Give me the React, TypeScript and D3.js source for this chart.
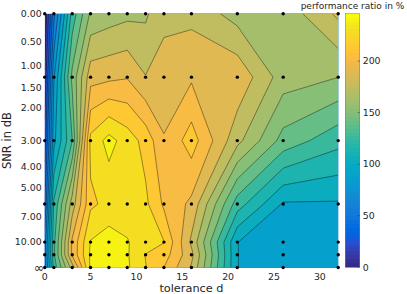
import React from "react";
import * as d3 from "d3";

// ---------- data ----------
const tolerance = [0, 1, 3, 5, 7, 9, 11, 13, 16, 21, 26, 32];
const snrDb = [0, 1.2494, 3.0103, 6.0206, 10, 13.0103, Infinity];

const ratioSnr0 = [0, 58, 128, 162, 166, 169, 170, 183, 181, 167, 164, 187];
const ratioSnr1 = [14, 85, 151, 192, 194, 196, 185, 187, 195, 194, 166, 160];
const ratioSnr3 = [30, 95, 135, 225, 238, 228, 217, 198, 215, 176, 143, 127];
const ratioSnr6 = [50, 125, 178, 219, 225, 229, 224, 207, 194, 129, 97, 97];
const ratioSnr10 = [68, 132, 199, 234.5, 240, 234.3, 229, 221.8, 182, 98.6, 90, 90];
const ratioSnr13 = [70, 133, 199, 236, 241, 235, 220.8, 215, 188, 98.6, 90, 90];
const ratioSnrInf = [66, 128, 178, 236, 246, 235.5, 222, 209, 183, 98.6, 90, 90];
const ratioRows = [ratioSnr0, ratioSnr1, ratioSnr3, ratioSnr6, ratioSnr10, ratioSnr13, ratioSnrInf];

const yTickValues = [0, 0.5, 1, 1.5, 2, 3, 4, 5, 7, 10, Infinity];
const yTickLabels = ["0.00", "0.50", "1.00", "1.50", "2.00", "3.00", "4.00", "5.00", "7.00", "10.00", "\u221E"];
const xTickValues = [0, 5, 10, 15, 20, 25, 30];
const cbTickValues = [0, 50, 100, 150, 200];
const colorMax = 246;
const levelCount = 20;
const fillColorMax = 240;

// ---------- parula colormap ----------
const PARULA: number[][] = [
  [0.2081, 0.1663, 0.5292], [0.2116, 0.1898, 0.5777], [0.2123, 0.2138, 0.627], [0.2081, 0.2386, 0.6771],
  [0.1959, 0.2645, 0.7279], [0.1707, 0.2919, 0.7792], [0.1253, 0.3242, 0.8303], [0.0591, 0.3598, 0.8683],
  [0.0117, 0.3875, 0.882], [0.006, 0.4086, 0.8828], [0.0165, 0.4266, 0.8786], [0.0329, 0.443, 0.872],
  [0.0498, 0.4586, 0.8641], [0.0629, 0.4737, 0.8554], [0.0723, 0.4887, 0.8467], [0.0779, 0.504, 0.8384],
  [0.0793, 0.52, 0.8312], [0.0749, 0.5375, 0.8263], [0.0641, 0.557, 0.824], [0.0488, 0.5772, 0.8228],
  [0.0343, 0.5966, 0.8199], [0.0265, 0.6137, 0.8135], [0.0239, 0.6287, 0.8038], [0.0231, 0.6418, 0.7913],
  [0.0228, 0.6535, 0.7768], [0.0267, 0.6642, 0.7607], [0.0384, 0.6743, 0.7436], [0.059, 0.6838, 0.7254],
  [0.0843, 0.6928, 0.7062], [0.1133, 0.7015, 0.6859], [0.1453, 0.7098, 0.6646], [0.1801, 0.7177, 0.6424],
  [0.2178, 0.725, 0.6193], [0.2586, 0.7317, 0.5954], [0.3022, 0.7376, 0.5712], [0.3482, 0.7424, 0.5473],
  [0.3953, 0.7459, 0.5244], [0.442, 0.7481, 0.5033], [0.4871, 0.7491, 0.484], [0.53, 0.7491, 0.4661],
  [0.5709, 0.7485, 0.4494], [0.6099, 0.7473, 0.4337], [0.6473, 0.7456, 0.4188], [0.6834, 0.7435, 0.4044],
  [0.7184, 0.7411, 0.3905], [0.7525, 0.7384, 0.3768], [0.7858, 0.7356, 0.3633], [0.8185, 0.7327, 0.3498],
  [0.8507, 0.7299, 0.336], [0.8824, 0.7274, 0.3217], [0.9139, 0.7258, 0.3063], [0.945, 0.7261, 0.2886],
  [0.9739, 0.7314, 0.2666], [0.9938, 0.7455, 0.2403], [0.999, 0.7653, 0.2164], [0.9955, 0.7861, 0.1967],
  [0.988, 0.8066, 0.1794], [0.9789, 0.8271, 0.1633], [0.9697, 0.8481, 0.1475], [0.9626, 0.8705, 0.1309],
  [0.9589, 0.8949, 0.1132], [0.9598, 0.9218, 0.0948], [0.9661, 0.9514, 0.0755], [0.9763, 0.9831, 0.0538],
];
function parula(f: number): string {
  const i = Math.max(0, Math.min(PARULA.length - 1, Math.floor(f * PARULA.length)));
  const c = PARULA[i];
  return d3.rgb(c[0] * 255, c[1] * 255, c[2] * 255).formatHex();
}

// ---------- layout ----------
const W = 407, H = 294;
const plotL = 44.7, plotR = 338.2, plotT = 13.7, plotB = 267.5;
const cbL = 345.3, cbR = 359.7, cbT = 13.6, cbB = 267.3;
const textColor = "#262626";
const font = "DejaVu Sans, sans-serif";

const noisePower = (db: number) => (db === Infinity ? 0 : Math.pow(10, -db / 10));
const rowPower = snrDb.map(noisePower);

const xScale = d3.scaleLinear().domain([0, 32]).range([plotL, plotR]);
const yScale = d3.scaleLinear().domain([1, 0]).range([plotT, plotB]);
const cScale = d3.scaleLinear().domain([0, colorMax]).range([cbB, cbT]);

function gridToData(c: number, arr: number[]): number {
  const k = Math.max(0, Math.min(arr.length - 1, c - 0.5));
  const i0 = Math.min(arr.length - 2, Math.floor(k));
  const f = k - i0;
  return arr[i0] + (arr[i0 + 1] - arr[i0]) * f;
}

export default function App() {
  const nx = tolerance.length, ny = snrDb.length;
  const values: number[] = [];
  ratioRows.forEach((row) => row.forEach((v) => values.push(v)));
  const step = colorMax / levelCount;
  const levels = d3.range(0, levelCount).map((k) => k * step);
  const contours = d3.contours().size([nx, ny]).thresholds(levels).smooth(true)(values);

  const toPx = (p: number[]) => {
    const gx = Math.max(0, Math.min(nx - 1, p[0] - 0.5));
    const gy = Math.max(0, Math.min(ny - 1, p[1] - 0.5));
    return {
      gx, gy,
      x: xScale(gridToData(p[0], tolerance)),
      y: yScale(gridToData(p[1], rowPower)),
    };
  };

  const fills: { d: string; color: string }[] = [];
  const lines: string[] = [];
  contours.forEach((mp, li) => {
    let d = "";
    let ld = "";
    mp.coordinates.forEach((poly) => {
      poly.forEach((ring) => {
        const pts = ring.map(toPx);
        d += "M" + pts.map((q) => q.x.toFixed(2) + "," + q.y.toFixed(2)).join("L") + "Z";
        for (let i = 0; i < pts.length - 1; i++) {
          const a = pts[i], b = pts[i + 1];
          const onB =
            (a.gx === 0 && b.gx === 0) || (a.gx === nx - 1 && b.gx === nx - 1) ||
            (a.gy === 0 && b.gy === 0) || (a.gy === ny - 1 && b.gy === ny - 1);
          if (onB) continue;
          ld += `M${a.x.toFixed(2)},${a.y.toFixed(2)}L${b.x.toFixed(2)},${b.y.toFixed(2)}`;
        }
      });
    });
    fills.push({ d, color: parula(levels[li] / fillColorMax) });
    if (li > 0) lines.push(ld);
  });

  const gradStops = d3.range(0, 64).map((i) => ({ i, color: parula((i + 0.5) / 64) }));

  return (
    <svg width={W} height={H} style={{ position: "absolute", left: 0, top: 0 }} fontFamily={font}>
      <defs>
        <clipPath id="plotClip">
          <rect x={plotL} y={plotT} width={plotR - plotL} height={plotB - plotT} />
        </clipPath>
        <linearGradient id="cbGrad" x1="0" y1="1" x2="0" y2="0">
          {gradStops.map((s) => (
            <React.Fragment key={s.i}>
              <stop offset={s.i / 64} stopColor={s.color} />
              <stop offset={(s.i + 1) / 64} stopColor={s.color} />
            </React.Fragment>
          ))}
        </linearGradient>
      </defs>
      <rect width={W} height={H} fill="#fff" />
      <g clipPath="url(#plotClip)">
        {fills.map((f, i) => (
          <path key={i} d={f.d} fill={f.color} fillRule="evenodd" stroke="none" />
        ))}
        {lines.map((d, i) => (
          <path key={i} d={d} fill="none" stroke="#000" strokeOpacity={0.65} strokeWidth={0.6} />
        ))}
      </g>
      {ratioRows.map((row, j) =>
        row.map((_, i) => (
          <circle key={`${j}-${i}`} cx={xScale(tolerance[i])} cy={yScale(rowPower[j])} r={1.7} fill="#000" />
        ))
      )}
      {yTickValues.map((v, i) =>
        v === Infinity ? (
          <text key={i} x={plotL - 0.5} y={yScale(0)} dy="0.32em" textAnchor="end" fontSize={12.5} fill={textColor}>
            {yTickLabels[i]}
          </text>
        ) : (
          <text key={i} x={plotL - 3} y={yScale(noisePower(v))} dy="0.35em" textAnchor="end" fontSize={9.4} fill={textColor}>
            {yTickLabels[i]}
          </text>
        )
      )}
      {xTickValues.map((v) => (
        <text key={v} x={xScale(v)} y={280} textAnchor="middle" fontSize={9.4} fill={textColor}>
          {v}
        </text>
      ))}
      <text x={(plotL + plotR) / 2} y={292.3} textAnchor="middle" fontSize={11.3} fill={textColor}>
        tolerance d
      </text>
      <text transform={`translate(11,${(plotT + plotB) / 2}) rotate(-90)`} textAnchor="middle" fontSize={11.5} fill={textColor}>
        SNR in dB
      </text>
      <rect x={cbL} y={cbT} width={cbR - cbL} height={cbB - cbT} fill="url(#cbGrad)" stroke="#262626" strokeWidth={0.5} strokeOpacity={0.6} />
      {cbTickValues.map((v) => (
        <g key={v}>
          <line x1={cbR - 2} x2={cbR} y1={cScale(v)} y2={cScale(v)} stroke="#262626" strokeWidth={0.5} />
          <text x={cbR + 3} y={cScale(v)} dy="0.35em" fontSize={9.4} fill={textColor}>
            {v}
          </text>
        </g>
      ))}
      <text x={(cbL + cbR) / 2} y={8.5} textAnchor="middle" fontSize={9} fill={textColor}>
        performance ratio in %
      </text>
    </svg>
  );
}
